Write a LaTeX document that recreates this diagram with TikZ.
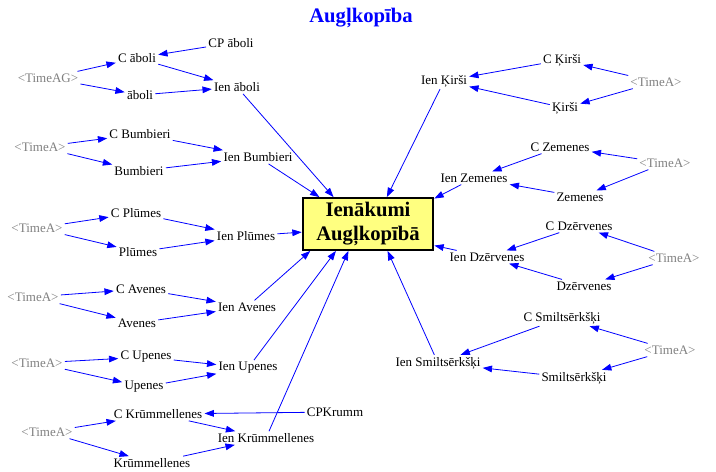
\documentclass[tikz,border=0pt]{standalone}
\usepackage{fontspec}
\setmainfont{Liberation Serif}
\usepackage{tikz}
\usetikzlibrary{arrows.meta}
\definecolor{vblue}{RGB}{0,0,255}
\definecolor{vyellow}{RGB}{255,255,128}

\begin{document}
\begin{tikzpicture}[x=0.75pt, y=-0.75pt,
          var/.style={inner sep=1.5pt, font=\fontsize{9.75}{11}\selectfont},
          tim/.style={var, text=black!50},
          box/.style={draw, line width=1.5pt, fill=vyellow,
                      minimum width=98pt, minimum height=37pt, align=center,
                      font=\fontsize{15.5}{17.5}\selectfont\bfseries},
          arr/.style={-{Triangle[length=7pt, width=5pt]}, vblue, line width=0.6pt}
        ]
          \useasboundingbox (0,0) rectangle (716,471);
          \node[text=vblue, font=\fontsize{15.5}{17}\selectfont\bfseries] (title) at (361,18) {Augļkopība};
          \node[box] (ien) at (368,224) {Ienākumi\\Augļkopībā};

          \node[var] (cpab) at (231,43) {CP āboli};
          \node[var] (cab) at (137,58) {C āboli};
          \node[tim] (tab) at (48,78) {<TimeAG>};
          \node[var] (ab) at (140,95) {āboli};
          \node[var] (iab) at (237,87) {Ien āboli};

          \node[var] (cbu) at (140,134) {C Bumbieri};
          \node[tim] (tbu) at (40,147) {<TimeA>};
          \node[var] (bu) at (139,171) {Bumbieri};
          \node[var] (ibu) at (258,157) {Ien Bumbieri};

          \node[var] (cpl) at (136,213) {C Plūmes};
          \node[tim] (tpl) at (37,228) {<TimeA>};
          \node[var] (pl) at (138,252) {Plūmes};
          \node[var] (ipl) at (246,236) {Ien Plūmes};

          \node[var] (cav) at (141,289) {C Avenes};
          \node[tim] (tav) at (33,297) {<TimeA>};
          \node[var] (av) at (137,323) {Avenes};
          \node[var] (iav) at (247,307) {Ien Avenes};

          \node[var] (cup) at (146,357) {C Upenes};
          \node[tim] (tup) at (37,363) {<TimeA>};
          \node[var] (up) at (144,387) {Upenes};
          \node[var] (iup) at (248,368) {Ien Upenes};

          \node[var] (ckr) at (158,414) {C Krūmmellenes};
          \node[var] (cpkr) at (335,412) {CPKrumm};
          \node[tim] (tkr) at (47,432) {<TimeA>};
          \node[var] (kr) at (152,463) {Krūmmellenes};
          \node[var] (ikr) at (266,438) {Ien Krūmmellenes};

          \node[var] (cki) at (562,60) {C Ķirši};
          \node[var] (iki) at (444,81) {Ien Ķirši};
          \node[tim] (tki) at (656,82) {<TimeA>};
          \node[var] (ki) at (565,108) {Ķirši};

          \node[var] (cze) at (560,147) {C Zemenes};
          \node[tim] (tze) at (665,163) {<TimeA>};
          \node[var] (ize) at (474,178) {Ien Zemenes};
          \node[var] (ze) at (580,197) {Zemenes};

          \node[var] (cdz) at (579,226) {C Dzērvenes};
          \node[var] (idz) at (487,257) {Ien Dzērvenes};
          \node[tim] (tdz) at (674,258) {<TimeA>};
          \node[var] (dz) at (584,286) {Dzērvenes};

          \node[var] (csm) at (562,318) {C Smiltsērkšķi};
          \node[tim] (tsm) at (670,350) {<TimeA>};
          \node[var] (ism) at (438,363) {Ien Smiltsērkšķi};
          \node[var] (sm) at (574,378) {Smiltsērkšķi};

          \draw[arr] (cpab) -- (cab);
          \draw[arr] (tab) -- (cab);
          \draw[arr] (tab) -- (ab);
          \draw[arr] (cab) -- (iab);
          \draw[arr] (ab) -- (iab);
          \draw[arr] (iab) -- (ien.142.9);

          \draw[arr] (tbu) -- (cbu);
          \draw[arr] (tbu) -- (bu);
          \draw[arr] (cbu) -- (ibu);
          \draw[arr] (bu) -- (ibu);
          \draw[arr] (ibu) -- (ien.151.5);

          \draw[arr] (tpl) -- (cpl);
          \draw[arr] (tpl) -- (pl);
          \draw[arr] (cpl) -- (ipl);
          \draw[arr] (pl) -- (ipl);
          \draw[arr] (ipl) -- (ien.187.8);

          \draw[arr] (tav) -- (cav);
          \draw[arr] (tav) -- (av);
          \draw[arr] (cav) -- (iav);
          \draw[arr] (av) -- (iav);
          \draw[arr] (iav) -- (ien.205.6);

          \draw[arr] (tup) -- (cup);
          \draw[arr] (tup) -- (up);
          \draw[arr] (cup) -- (iup);
          \draw[arr] (up) -- (iup);
          \draw[arr] (iup) -- (ien.220.6);

          \draw[arr] (cpkr) -- (ckr);
          \draw[arr] (tkr) -- (ckr);
          \draw[arr] (tkr) -- (kr);
          \draw[arr] (ckr) -- (ikr);
          \draw[arr] (kr) -- (ikr);
          \draw[arr] (ikr) -- (ien.234.7);

          \draw[arr] (tki) -- (cki);
          \draw[arr] (tki) -- (ki);
          \draw[arr] (cki) -- (iki);
          \draw[arr] (ki) -- (iki);
          \draw[arr] (iki) -- (ien.55.8);

          \draw[arr] (tze) -- (cze);
          \draw[arr] (tze) -- (ze);
          \draw[arr] (cze) -- (ize);
          \draw[arr] (ze) -- (ize);
          \draw[arr] (ize) -- (ien.21);

          \draw[arr] (tdz) -- (cdz);
          \draw[arr] (tdz) -- (dz);
          \draw[arr] (cdz) -- (idz);
          \draw[arr] (dz) -- (idz);
          \draw[arr] (idz) -- (ien.342.1);

          \draw[arr] (tsm) -- (csm);
          \draw[arr] (tsm) -- (sm);
          \draw[arr] (csm) -- (ism);
          \draw[arr] (sm) -- (ism);
          \draw[arr] (ism) -- (ien.306.9);
        \end{tikzpicture}
\end{document}
